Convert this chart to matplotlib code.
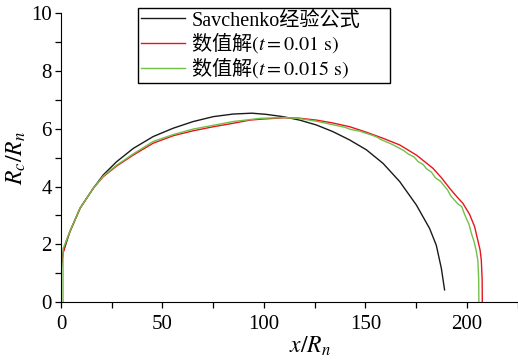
import matplotlib
matplotlib.use("Agg")
import matplotlib.pyplot as plt
from matplotlib.ticker import MultipleLocator

plt.rcParams['font.family'] = ['Liberation Serif', 'Noto Sans CJK SC']
plt.rcParams['mathtext.fontset'] = 'stix'

# Savchenko empirical formula
sav_x = [0, 0.3, 1.15, 4.4, 9.4, 15.9, 20.8, 27.4, 35.6, 45.4, 55.3, 65.1, 75,
         84.8, 94, 101, 109.4, 117.6, 125.9, 134, 142.3, 150.5, 158.7, 166.9,
         175.1, 181.6, 184.9, 187.4, 189]
sav_y = [0.94, 1.35, 1.74, 2.44, 3.25, 3.94, 4.4, 4.86, 5.32, 5.73, 6.02, 6.25,
         6.42, 6.51, 6.54, 6.5, 6.42, 6.3, 6.13, 5.9, 5.61, 5.27, 4.8, 4.17, 3.36,
         2.55, 1.97, 1.17, 0.42]

# numerical solution, t = 0.01 s
num1_x = [0, 0.3, 1.15, 2.5, 4.4, 9.4, 15.9, 20.8, 27.4, 35.6, 45.4, 55.3, 65.1,
          75, 84.8, 93, 98, 109.4, 117, 125.9, 134, 142.3, 150.5, 158.7, 166.9,
          175.1, 183.3, 187.5, 191.5, 195, 198, 201.3, 203.8, 205.5, 206.5, 207.1,
          207.5, 207.6]
num1_y = [1.0, 1.4, 1.74, 2.1, 2.44, 3.25, 3.94, 4.34, 4.71, 5.09, 5.5, 5.76,
          5.93, 6.07, 6.19, 6.3, 6.33, 6.38, 6.37, 6.3, 6.2, 6.07, 5.88, 5.67,
          5.44, 5.09, 4.63, 4.3, 3.94, 3.65, 3.42, 3.04, 2.61, 2.1, 1.8, 1.45, 0.8,
          0]

# numerical solution, t = 0.015 s
num2_x = [1, 1, 2.5, 4.4, 9.4, 15.9, 20.8, 27.4, 35.6, 45.4, 55.3, 65.1, 75, 84.8,
          98, 109.4, 117, 125.9, 134, 140, 142.5, 147, 150.5, 154, 156, 157.5,
          161.9, 164, 166.9, 169, 171, 174, 176, 178.5, 180, 182.5, 184.5, 187,
          188.5, 190.5, 192, 194, 195.5, 197.5, 198.5, 200, 201, 202.2, 203.5,
          204.5, 205.4, 205.8, 205.9]
num2_y = [0, 1.85, 2.1, 2.45, 3.25, 3.94, 4.36, 4.74, 5.13, 5.56, 5.8, 5.99, 6.12,
          6.25, 6.36, 6.39, 6.36, 6.26, 6.14, 6.05, 5.98, 5.92, 5.84, 5.76, 5.7,
          5.63, 5.5, 5.43, 5.32, 5.24, 5.13, 5.02, 4.86, 4.76, 4.62, 4.5, 4.3, 4.18,
          4.05, 3.88, 3.68, 3.52, 3.4, 3.3, 3.1, 2.85, 2.7, 2.38, 2.1, 1.8, 1.45,
          0.8, 0]

labels = ['Savchenko经验公式',
          r'数值解$(t\mathrm{=0.01\ s})$',
          r'数值解$(t\mathrm{=0.015\ s})$']
colors = ['#1a1a1a', '#e8141e', '#72c04a']

fig = plt.figure(figsize=(5.18, 3.64), dpi=100)
ax = fig.add_axes([0.1178, 0.1703, 0.8815, 0.7932])

ax.plot(sav_x, sav_y, color=colors[0], lw=1.0, label=labels[0])
ax.plot(num1_x, num1_y, color=colors[1], lw=1.0, label=labels[1])
ax.plot(num2_x, num2_y, color=colors[2], lw=1.0, label=labels[2])

ax.set_xlim(0, 225)
ax.set_ylim(0, 10)
ax.xaxis.set_major_locator(MultipleLocator(50))
ax.xaxis.set_minor_locator(MultipleLocator(25))
ax.yaxis.set_major_locator(MultipleLocator(2))
ax.yaxis.set_minor_locator(MultipleLocator(1))
ax.spines['top'].set_visible(False)
ax.spines['right'].set_visible(False)
ax.tick_params(which='both', direction='out', length=4.5, width=0.9,
               labelsize=15, pad=2)
ax.tick_params(which='minor', length=4)
ax.tick_params(axis='x', which='major', pad=5)

ax.set_xlabel('$x/R_n$', fontsize=17)
ax.xaxis.set_label_coords(0.545, -0.112)
ax.set_ylabel('$R_c/R_n$', fontsize=17, labelpad=2)

leg = ax.legend(loc='upper left', bbox_to_anchor=(0.1685, 0.762, 0.5515, 0.256),
                mode='expand', borderaxespad=0,
                fontsize=14.5, fancybox=False, framealpha=1, edgecolor='black',
                handlelength=2.2, handletextpad=0.3, labelspacing=0.0,
                borderpad=0.15)
leg.get_frame().set_linewidth(1.0)
for i, txt in enumerate(leg.get_texts()):
    if i == 0:
        txt.set_family(['Liberation Serif', 'Noto Sans CJK SC'])
    else:
        txt.set_family('Noto Sans CJK SC')

fig.savefig('out.png', dpi=100)
